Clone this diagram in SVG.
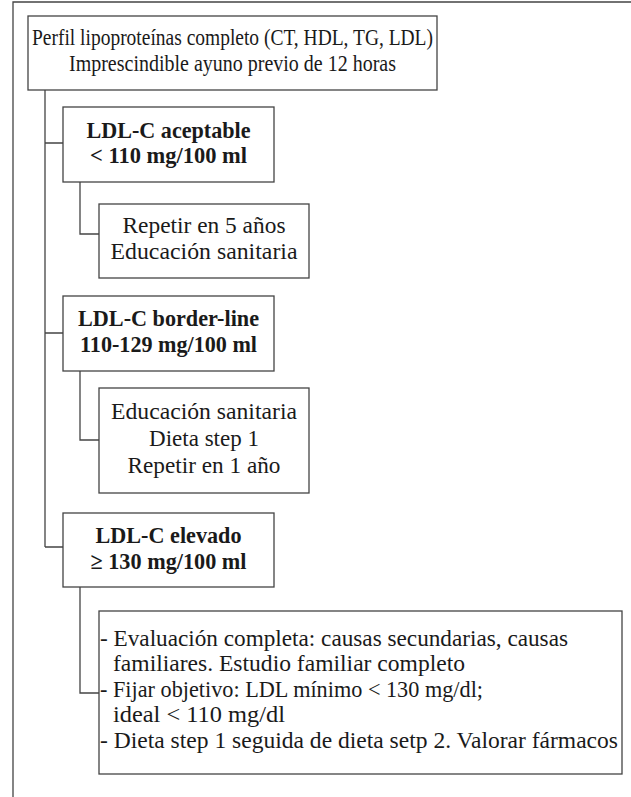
<svg xmlns="http://www.w3.org/2000/svg" width="631" height="797" viewBox="0 0 631 797">
<style>
.box{fill:#fff;stroke:#444;stroke-width:1.3}
.ln{fill:none;stroke:#444;stroke-width:1.3}
text{font-family:"Liberation Serif","Times New Roman",serif;font-size:23px;fill:#1a1a1a}
.c{text-anchor:middle}
.b{font-weight:bold}
</style>
<rect width="631" height="797" fill="#fff"/>
<g id="frame">
<path class="ln" d="M13,797 V2 H631"/>
</g>
<g id="connectors">
<path class="ln" d="M45,90 V547 M45,143 H63 M45,333 H63 M45,547 H63"/>
<path class="ln" d="M80,182 V234 H99"/>
<path class="ln" d="M80,371 V440 H99"/>
<path class="ln" d="M80,587 V693 H99"/>
</g>
<g id="n_top">
<rect class="box" x="28" y="16" width="409" height="74"/>
<text class="c" x="232.5" y="45" textLength="401" lengthAdjust="spacingAndGlyphs">Perfil lipoproteínas completo (CT, HDL, TG, LDL)</text>
<text class="c" x="232.5" y="71" textLength="327" lengthAdjust="spacingAndGlyphs">Imprescindible ayuno previo de 12 horas</text>
</g>
<g id="n_aceptable">
<rect class="box" x="63" y="107" width="211" height="75"/>
<text class="c b" x="168.5" y="138" textLength="164" lengthAdjust="spacingAndGlyphs">LDL-C aceptable</text>
<text class="c b" x="168.5" y="163" textLength="157" lengthAdjust="spacingAndGlyphs">&lt; 110 mg/100 ml</text>
</g>
<g id="n_aceptable_act">
<rect class="box" x="99" y="204" width="210" height="74"/>
<text class="c" x="204" y="233" textLength="163" lengthAdjust="spacingAndGlyphs">Repetir en 5 años</text>
<text class="c" x="204" y="259" textLength="187" lengthAdjust="spacingAndGlyphs">Educación sanitaria</text>
</g>
<g id="n_borderline">
<rect class="box" x="63" y="296" width="211" height="75"/>
<text class="c b" x="168.5" y="326" textLength="181" lengthAdjust="spacingAndGlyphs">LDL-C border-line</text>
<text class="c b" x="168.5" y="352" textLength="177" lengthAdjust="spacingAndGlyphs">110-129 mg/100 ml</text>
</g>
<g id="n_borderline_act">
<rect class="box" x="99" y="388" width="210" height="105"/>
<text class="c" x="204" y="419" textLength="186" lengthAdjust="spacingAndGlyphs">Educación sanitaria</text>
<text class="c" x="204" y="446" textLength="110" lengthAdjust="spacingAndGlyphs">Dieta step 1</text>
<text class="c" x="204" y="473" textLength="153" lengthAdjust="spacingAndGlyphs">Repetir en 1 año</text>
</g>
<g id="n_elevado">
<rect class="box" x="63" y="513" width="211" height="74"/>
<text class="c b" x="168.5" y="543" textLength="146" lengthAdjust="spacingAndGlyphs">LDL-C elevado</text>
<text class="c b" x="168.5" y="569" textLength="156" lengthAdjust="spacingAndGlyphs">≥ 130 mg/100 ml</text>
</g>
<g id="n_elevado_act">
<rect class="box" x="99" y="611" width="523" height="163"/>
<text x="100" y="646" textLength="468" lengthAdjust="spacingAndGlyphs">- Evaluación completa: causas secundarias, causas</text>
<text x="113" y="671" textLength="352" lengthAdjust="spacingAndGlyphs">familiares. Estudio familiar completo</text>
<text x="100" y="697" textLength="383" lengthAdjust="spacingAndGlyphs">- Fijar objetivo: LDL mínimo &lt; 130 mg/dl;</text>
<text x="113" y="722" textLength="172" lengthAdjust="spacingAndGlyphs">ideal &lt; 110 mg/dl</text>
<text x="100" y="748" textLength="518" lengthAdjust="spacingAndGlyphs">- Dieta step 1 seguida de dieta setp 2. Valorar fármacos</text>
</g>
</svg>
